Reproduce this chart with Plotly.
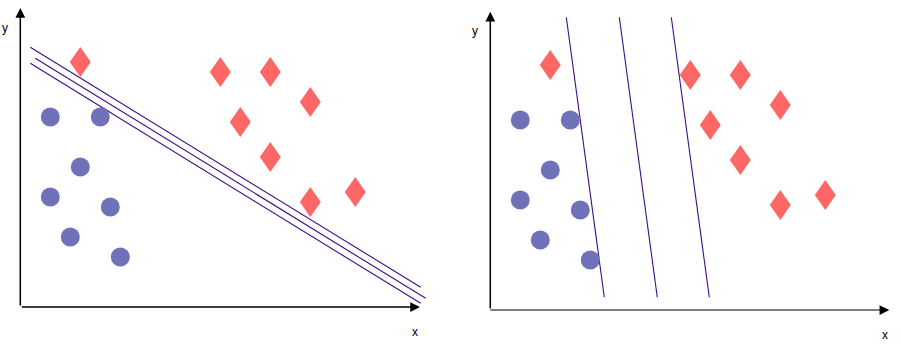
import plotly.graph_objects as go
from plotly.subplots import make_subplots

# ---- data (same points in both panels) ----
circle_x = [3, 8, 6, 3, 9, 5, 10]
circle_y = [19, 19, 14, 11, 10, 7, 5]
diamond_x = [6, 20, 25, 29, 22, 25, 29, 33.5]
diamond_y = [24.5, 23.5, 23.5, 20.5, 18.5, 15, 10.5, 11.5]

# separating lines, left panel (good margin) : (x0, y0, x1, y1)
left_lines = [
    (1.0, 25.97, 40.04, 1.97),
    (1.5, 24.87, 40.54, 0.87),
    (1.0, 24.37, 40.04, 0.37),
]
# separating lines, right panel (poor margin)
right_lines = [
    (7.6, 29.27, 11.4, 1.27),
    (12.9, 29.27, 16.7, 1.27),
    (18.1, 29.27, 21.9, 1.27),
]
axis_len_x = [39.97, 39.9]
axis_len_y = [29.9, 29.83]

CIRCLE_COLOR = "#6f71b9"
DIAMOND_COLOR = "#ff6666"
LINE_COLOR = "#3d0c8a"
DHW, DHH = 1.05, 1.5  # diamond half width / half height (style)

fig = make_subplots(rows=1, cols=2, horizontal_spacing=0)

def add_panel(col, lines):
    for (x0, y0, x1, y1) in lines:
        fig.add_trace(go.Scatter(x=[x0, x1], y=[y0, y1], mode="lines",
                                 line=dict(color=LINE_COLOR, width=1.1),
                                 hoverinfo="skip", showlegend=False), row=1, col=col)
    fig.add_trace(go.Scatter(x=circle_x, y=circle_y, mode="markers",
                             marker=dict(size=19, color=CIRCLE_COLOR, line=dict(width=0)),
                             showlegend=False), row=1, col=col)
    px, py = [], []
    for cx, cy in zip(diamond_x, diamond_y):
        px += [cx, cx + DHW, cx, cx - DHW, cx, None]
        py += [cy + DHH, cy, cy - DHH, cy, cy + DHH, None]
    fig.add_trace(go.Scatter(x=px, y=py, mode="lines", fill="toself",
                             fillcolor=DIAMOND_COLOR, line=dict(width=0, color=DIAMOND_COLOR),
                             hoverinfo="skip", showlegend=False), row=1, col=col)

add_panel(1, left_lines)
add_panel(2, right_lines)

# right panel: grey x axis line (arrowhead drawn black below)
fig.add_trace(go.Scatter(x=[0, axis_len_x[1] - 0.4], y=[0, 0], mode="lines",
                         line=dict(color="#808080", width=2.2),
                         hoverinfo="skip", showlegend=False), row=1, col=2)

for i, (xr, yr) in enumerate([("x", "y"), ("x2", "y2")]):
    # x axis
    if i == 0:
        fig.add_annotation(x=axis_len_x[i], y=0, ax=0, ay=0, xref=xr, yref=yr,
                           axref=xr, ayref=yr, showarrow=True, arrowhead=2,
                           arrowsize=1.3, arrowwidth=1.5, arrowcolor="black", text="")
    else:
        fig.add_annotation(x=axis_len_x[i], y=0, ax=axis_len_x[i] - 0.9, ay=0, xref=xr, yref=yr,
                           axref=xr, ayref=yr, showarrow=True, arrowhead=2,
                           arrowsize=1.3, arrowwidth=1.5, arrowcolor="black", text="")
    # y axis
    fig.add_annotation(x=0, y=axis_len_y[i], ax=0, ay=0, xref=xr, yref=yr,
                       axref=xr, ayref=yr, showarrow=True, arrowhead=2,
                       arrowsize=1.3, arrowwidth=1.5, arrowcolor="black", text="")
    # labels
    fig.add_annotation(x=-1.55, y=27.9, xref=xr, yref=yr, text="y", showarrow=False,
                       font=dict(size=12, color="black", family="Liberation Sans, Arial"))
    fig.add_annotation(x=39.5, y=-2.5, xref=xr, yref=yr, text="x", showarrow=False,
                       font=dict(size=12, color="black", family="Liberation Sans, Arial"))

fig.update_layout(
    width=901, height=346, autosize=False,
    margin=dict(l=0, r=0, t=0, b=0),
    plot_bgcolor="white", paper_bgcolor="white",
    xaxis=dict(domain=[0, 0.5], range=[-2.03, 43.02], visible=False),
    yaxis=dict(domain=[0, 1], range=[-3.9, 30.7], visible=False),
    xaxis2=dict(domain=[0.5, 1], range=[-3.98, 41.07], visible=False),
    yaxis2=dict(domain=[0, 1], range=[-3.6, 31.0], visible=False),
)

fig.write_html("out.html")
